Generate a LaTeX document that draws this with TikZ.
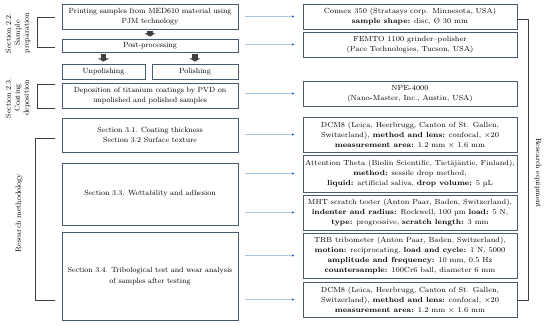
\documentclass[tikz,border=0pt]{standalone}
\usepackage{tikz}
\usetikzlibrary{arrows.meta, positioning}
\definecolor{mSlate}{HTML}{4A5A70}
\definecolor{mBlue}{HTML}{A7C7E7}
\definecolor{mDot}{HTML}{2F6EB5}
\definecolor{mDark}{HTML}{3F3F3F}

\begin{document}
\begin{tikzpicture}[x=1pt, y=-1pt,
    stage/.style={draw=mSlate, line width=0.9pt, fill=white, align=center, inner sep=0pt,
      minimum width=176pt, font=\fontsize{7.5}{10.5}\selectfont},
    kit/.style={stage, minimum width=214pt, font=\fontsize{7.4}{10}\selectfont},
    flow/.style={mDark, line width=5.5pt, -{Triangle[width=11pt,length=3.2pt]},
      shorten <=2pt, shorten >=2pt},
    feed/.style={mBlue, line width=0.6pt, -{Latex[length=2.5pt,width=2.5pt,color=mDot]},
      shorten >=8pt},
    brace/.style={mDark, line width=0.8pt},
    side/.style={font=\fontsize{7.5}{9}\selectfont, align=center}]
    \useasboundingbox (0,0) rectangle (550,325);

    % process column
    \node[stage, minimum height=25pt] (print) at (150,16.5) {Printing samples from MED610 material using\\PJM technology};
    \node[stage, minimum height=13pt] (post) at (150,45.5) {Post-processing};
    \node[stage, minimum width=83pt, minimum height=15pt] (unpol) at (103.5,71.5) {Unpolishing};
    \node[stage, minimum width=86pt, minimum height=15pt] (pol) at (195,71.5) {Polishing};
    \node[stage, minimum height=25pt] (depo) at (150,95.5) {Deposition of titanium coatings by PVD on\\unpolished and polished samples};
    \node[stage, minimum height=34pt] (thick) at (150,135) {Section 3.1. Coating thickness\\Section 3.2 Surface texture};
    \node[stage, minimum height=62pt] (wett) at (150,194) {Section 3.3. Wettability and adhesion};
    \node[stage, minimum height=88pt] (trib) at (150,276) {Section 3.4. Tribological test and wear analysis\\of samples after testing};

    \draw[flow] (print) -- (post);
    \draw[flow] (post.south -| unpol) -- (unpol);
    \draw[flow] (post.south -| pol) -- (pol);

    % equipment column
    \node[kit, minimum height=25pt] (connex) at (410,16.5) {Connex 350 (Stratasys corp. Minnesota, USA)\\\textbf{sample shape:} disc, Ø 30 mm};
    \node[kit, minimum height=25pt] (femto) at (410,44.5) {FEMTO 1100 grinder--polisher\\(Pace Technologies, Tucson, USA)};
    \node[kit, minimum height=25pt] (npe) at (410,93.5) {NPE-4000\\(Nano-Master, Inc., Austin, USA)};
    \node[kit, minimum height=35pt] (dcmA) at (410,134.5) {DCM8 (Leica, Heerbrugg, Canton of St. Gallen,\\Switzerland), \textbf{method and lens:} confocal, ×20\\\textbf{measurement area:} 1.2 mm × 1.6 mm};
    \node[kit, minimum height=37pt] (atten) at (410,173.5) {Attention Theta (Biolin Scientific, Tietäjäntie, Finland),\\\textbf{method:} sessile drop method,\\\textbf{liquid:} artificial saliva, \textbf{drop volume:} 5 µL};
    \node[kit, minimum height=35pt] (mht) at (410,212.5) {MHT scratch tester (Anton Paar, Baden, Switzerland),\\\textbf{indenter and radius:} Rockwell, 100 µm \textbf{load:} 5 N,\\\textbf{type:} progressive, \textbf{scratch length:} 3 mm};
    \node[kit, minimum height=45pt] (trb) at (410,255.5) {TRB tribometer (Anton Paar, Baden, Switzerland),\\\textbf{motion:} reciprocating, \textbf{load and cycle:} 1 N, 5000\\\textbf{amplitude and frequency:} 10 mm, 0.5 Hz\\\textbf{countersample:} 100Cr6 ball, diameter 6 mm};
    \node[kit, minimum height=35pt] (dcmB) at (410,299.5) {DCM8 (Leica, Heerbrugg, Canton of St. Gallen,\\Switzerland), \textbf{method and lens:} confocal, ×20\\\textbf{measurement area:} 1.2 mm × 1.6 mm};

    \foreach \n in {connex,femto,npe,dcmA,atten,mht,trb,dcmB} {
      \path (\n.west) ++(-58,0) coordinate (f\n);
      \draw[feed] (f\n) -- (\n.west);
    }

    % brackets and side labels
    \draw[brace] (55,17) -| (37,47) -- (55,47);
    \draw[brace] (55,84) -| (37,108) -- (55,108);
    \draw[brace] (55,138) -| (35,300) -- (55,300);
    \draw[brace] (518,19) -| (528,300) -- (518,300);
    \node[side, rotate=90] (prep) at (18,33) {Section 2.2.\\Sample\\preparation};
    \node[side, rotate=90] (coat) at (18,98) {Section 2.3.\\Coating\\deposition};
    \node[side, rotate=90] (meth) at (19,213) {Research methodology};
    \node[side, rotate=-90] (equip) at (538,173) {Research equipment};
  \end{tikzpicture}
\end{document}
